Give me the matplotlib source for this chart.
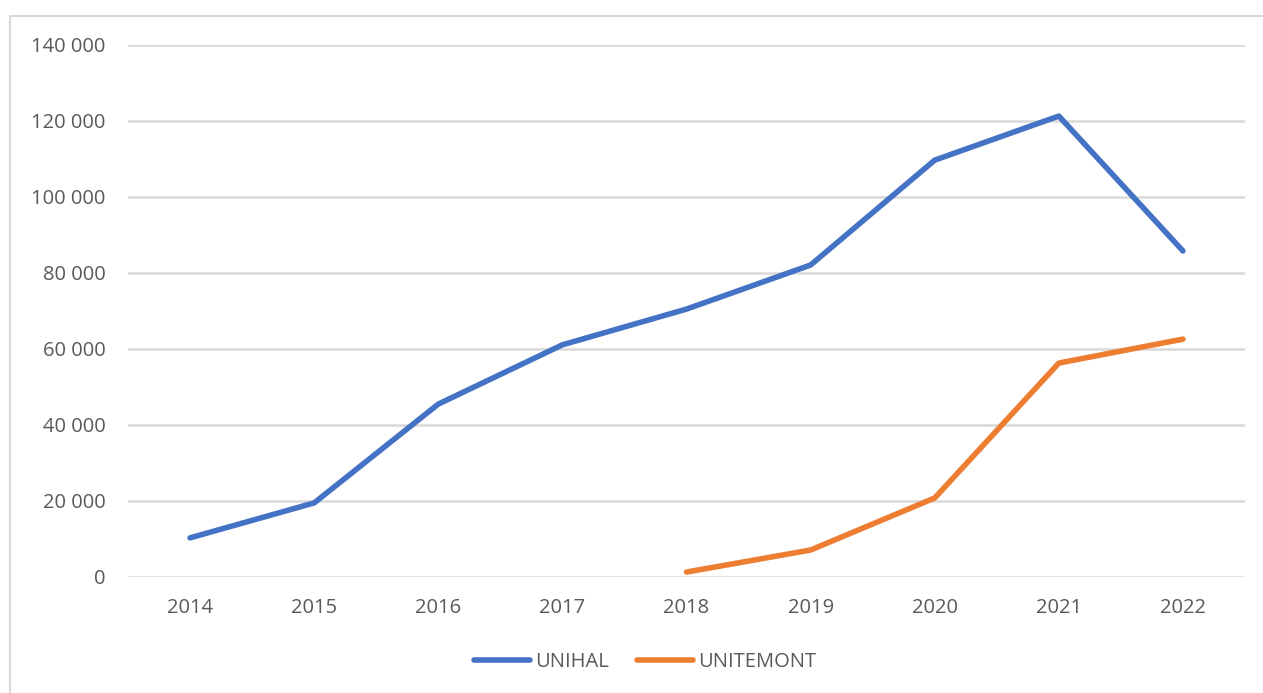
import matplotlib

matplotlib.use("Agg")
import matplotlib.pyplot as plt
from matplotlib.patches import Rectangle
from matplotlib.ticker import FuncFormatter, MultipleLocator

years = ["2014", "2015", "2016", "2017", "2018", "2019", "2020", "2021", "2022"]
unihal = [10300, 19500, 45500, 61100, 70500, 82100, 109700, 121300, 85800]
unitemont_years = ["2018", "2019", "2020", "2021", "2022"]
unitemont = [1300, 7100, 20800, 56300, 62600]

plt.rcParams["font.family"] = ["Open Sans", "DejaVu Sans"]
text_color = "#595959"

fig = plt.figure(figsize=(12.63, 6.93), dpi=100)
ax = fig.add_axes([128 / 1263, 116 / 693, 1117 / 1263, 532 / 693])

# chart frame (only top and left edges visible in the crop)
fig.patches.append(Rectangle((10 / 1263, -0.1), 1.2, (693 - 16) / 693 + 0.1,
                             transform=fig.transFigure, fill=False,
                             edgecolor="#d9d9d9", linewidth=1.5))

x_main = list(range(len(years)))
x_second = [years.index(y) for y in unitemont_years]

ax.plot(x_main, unihal, color="#4472c4", linewidth=4, solid_capstyle="round",
        solid_joinstyle="round", label="UNIHAL", zorder=3)
ax.plot(x_second, unitemont, color="#ed7d31", linewidth=4, solid_capstyle="round",
        solid_joinstyle="round", label="UNITEMONT", zorder=3)

ax.set_xlim(-0.5, len(years) - 0.5)
ax.set_ylim(0, 140000)
ax.yaxis.set_major_locator(MultipleLocator(20000))
ax.yaxis.set_major_formatter(FuncFormatter(lambda v, p: f"{int(v):,}".replace(",", " ")))
ax.set_xticks(x_main)
ax.set_xticklabels(years)

ax.grid(axis="y", color="#d9d9d9", linewidth=1.8, zorder=0)
for s in ax.spines.values():
    s.set_visible(False)
ax.tick_params(axis="both", length=0, labelsize=14.5, colors=text_color)
ax.tick_params(axis="y", pad=16)
ax.tick_params(axis="x", pad=15)

ax.legend(loc="center", bbox_to_anchor=(645 / 1263, (693 - 662) / 693),
          bbox_transform=fig.transFigure, ncol=2, frameon=False,
          fontsize=14.5, labelcolor=text_color, handlelength=2.8,
          handletextpad=0.25, columnspacing=1.4)

fig.savefig("out.png", dpi=100)
plt.close()
